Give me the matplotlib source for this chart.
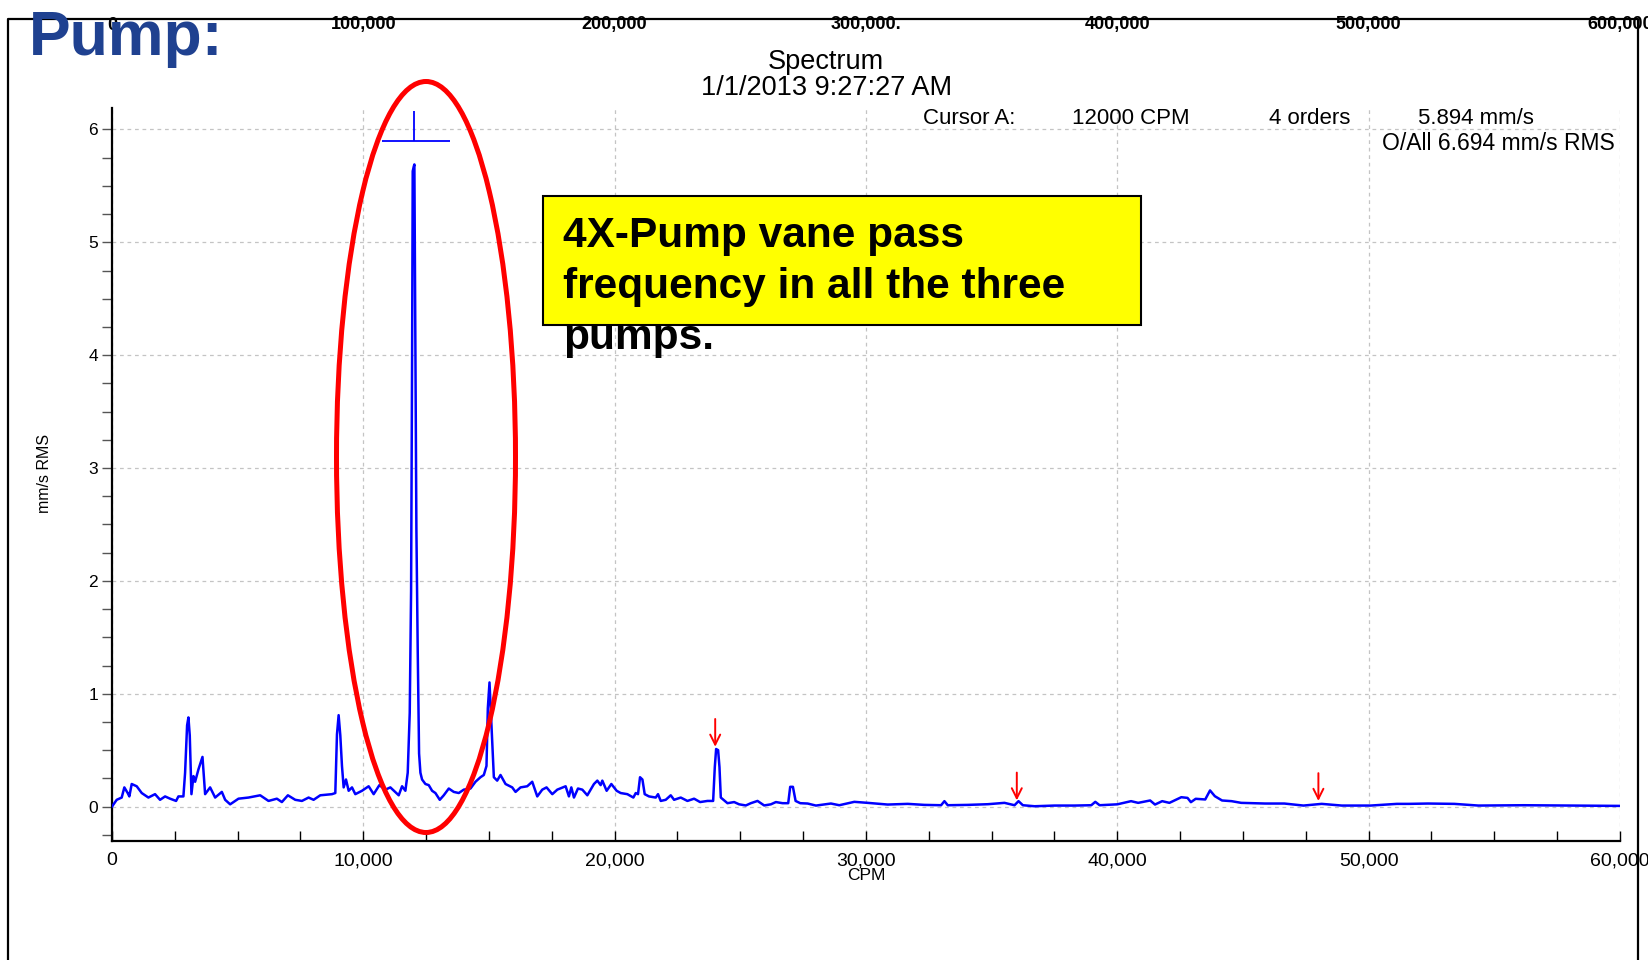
import matplotlib
matplotlib.use('Agg')
import matplotlib.pyplot as plt
import matplotlib.transforms as mtransforms
from matplotlib.patches import Ellipse, Rectangle
from matplotlib.lines import Line2D
from matplotlib.ticker import MultipleLocator, FuncFormatter

plt.rcParams['font.family'] = ['Liberation Sans', 'DejaVu Sans']

# Spectrum (CPM, mm/s RMS)
cpm = [0, 187, 386, 491, 624, 690, 784, 983, 1183, 1448, 1713, 1912, 2112, 2311, 2550, 2642,
       2841, 2908, 2988, 3041, 3094, 3161, 3240, 3307, 3440, 3600, 3705, 3904, 4104, 4370,
       4502, 4701, 5033, 5431, 5896, 6228, 6560, 6759, 6998, 7291, 7557, 7822, 8021, 8287,
       8752, 8885, 8951, 9017, 9084, 9150, 9217, 9310, 9416, 9549, 9681, 9947, 10212, 10411,
       10638, 10877, 11075, 11408, 11541, 11673, 11766, 11846, 11900, 11940, 11965, 12005,
       12031, 12058, 12085, 12111, 12164, 12218, 12271, 12337, 12470, 12603, 12736, 12868,
       13041, 13200, 13400, 13598, 13798, 13997, 14263, 14462, 14661, 14794, 14900, 14953,
       15020, 15087, 15140, 15193, 15326, 15458, 15658, 15924, 16056, 16255, 16521, 16720,
       16920, 17119, 17290, 17518, 17717, 18049, 18180, 18275, 18380, 18540, 18713, 18912,
       19176, 19310, 19442, 19509, 19681, 19868, 20079, 20239, 20505, 20744, 20839, 20929,
       21009, 21104, 21195, 21367, 21634, 21725, 21833, 22032, 22231, 22364, 22629, 22895,
       23160, 23399, 23693, 23918, 23984, 24037, 24116, 24170, 24223, 24329, 24488, 24754,
       24953, 25219, 25418, 25684, 25949, 26215, 26414, 26680, 26905, 26984, 27092, 27199,
       27384, 27677, 28008, 28605, 28937, 29535, 30066, 30863, 31660, 32323, 32988, 33120,
       33253, 34050, 34847, 35510, 35909, 36068, 36241, 36705, 37502, 38299, 38963, 39123,
       39295, 40000, 40546, 40829, 41306, 41498, 41785, 42072, 42545, 42792, 42927, 43118,
       43497, 43688, 43880, 44167, 44546, 44928, 45879, 46644, 47406, 48131, 48932, 50075,
       51123, 51601, 52362, 53410, 54366, 56175, 60000]
mm_s = [0.00, 0.06, 0.08, 0.17, 0.12, 0.09, 0.20, 0.18, 0.12, 0.08, 0.11, 0.06, 0.09, 0.07, 0.05, 0.09,
        0.09, 0.30, 0.72, 0.79, 0.63, 0.11, 0.27, 0.22, 0.33, 0.44, 0.11, 0.17, 0.08, 0.13,
        0.06, 0.02, 0.07, 0.08, 0.10, 0.05, 0.07, 0.04, 0.10, 0.06, 0.05, 0.08, 0.06, 0.10,
        0.11, 0.12, 0.64, 0.81, 0.63, 0.36, 0.17, 0.24, 0.14, 0.17, 0.11, 0.14, 0.18, 0.11,
        0.19, 0.15, 0.17, 0.10, 0.18, 0.14, 0.30, 0.83, 1.91, 3.98, 5.63, 5.67,
        5.69, 4.61, 3.56, 2.46, 1.38, 0.47, 0.30, 0.24, 0.20, 0.19, 0.14, 0.12,
        0.06, 0.10, 0.16, 0.13, 0.12, 0.15, 0.16, 0.22, 0.26, 0.28, 0.36, 0.87,
        1.10, 0.77, 0.52, 0.26, 0.23, 0.28, 0.20, 0.17, 0.13, 0.17, 0.18, 0.22,
        0.09, 0.15, 0.17, 0.11, 0.15, 0.18, 0.09, 0.17, 0.08, 0.16, 0.15, 0.10,
        0.20, 0.23, 0.19, 0.23, 0.14, 0.20, 0.14, 0.12, 0.11, 0.08, 0.12, 0.11,
        0.26, 0.24, 0.11, 0.09, 0.08, 0.11, 0.05, 0.06, 0.10, 0.06, 0.08, 0.05,
        0.07, 0.04, 0.05, 0.05, 0.35, 0.51, 0.50, 0.35, 0.08, 0.06, 0.03, 0.04,
        0.02, 0.01, 0.03, 0.05, 0.01, 0.02, 0.04, 0.03, 0.03, 0.175, 0.175, 0.05,
        0.03, 0.027, 0.009, 0.027, 0.012, 0.042, 0.033, 0.018, 0.024, 0.015, 0.012, 0.048,
        0.012, 0.015, 0.021, 0.033, 0.012, 0.048, 0.012, 0.003, 0.009, 0.009, 0.012, 0.042,
        0.012, 0.02, 0.048, 0.033, 0.054, 0.018, 0.048, 0.033, 0.083, 0.077, 0.039, 0.069,
        0.063, 0.143, 0.092, 0.054, 0.048, 0.033, 0.027, 0.027, 0.009, 0.024, 0.009, 0.009,
        0.024, 0.024, 0.027, 0.024, 0.009, 0.012, 0.006]

# Cursor A and its harmonics
cursor_cpm = 12000
cursor_val = 5.894
armonicos = [24000, 36000, 48000]
armonicos_val = [0.53, 0.055, 0.05]

# Garbled labels at the top border
top_pos = [0, 10000, 20000, 30000, 40000, 50000, 60000]
top_labels = ['0', '100,000', '200,000', '300,000.', '400,000', '500,000', '600,000']

W, H = 1649, 960
fig = plt.figure(figsize=(W / 100, H / 100), dpi=100)
ax = fig.add_axes([112 / W, 119 / H, 1508 / W, 733 / H])

ax.plot(cpm, mm_s, color='#0000ff', lw=1.8, zorder=3)
ax.set_xlim(0, 60000)
ax.set_ylim(-0.305, 6.19)

ax.spines['top'].set_visible(False)
ax.spines['right'].set_visible(False)
ax.spines['left'].set_linewidth(1.6)
ax.spines['bottom'].set_linewidth(1.6)

ax.xaxis.set_major_locator(MultipleLocator(10000))
ax.xaxis.set_minor_locator(MultipleLocator(2500))
ax.xaxis.set_major_formatter(FuncFormatter(lambda v, p: '{:,.0f}'.format(v)))
ax.yaxis.set_major_locator(MultipleLocator(1))
ax.yaxis.set_minor_locator(MultipleLocator(0.25))
ax.tick_params(axis='x', which='both', direction='in', length=7, width=1, labelsize=14, pad=8)
ax.tick_params(axis='y', which='both', direction='out', length=7, width=1, color='#555555',
               labelsize=12.5, pad=3)
ax.grid(True, which='major', ls=(0, (3, 3)), color='#c4c4c4', lw=0.9)

ax.set_xlabel('CPM', fontsize=12.5, va='center')
ax.xaxis.set_label_coords(0.5, -0.047)
ax.set_ylabel('mm/s RMS', fontsize=11.5, va='center')
ax.yaxis.set_label_coords(-0.045, 0.502)

# Cursor marker
ax.hlines(cursor_val, cursor_cpm - 1250, cursor_cpm + 1440, color='#0000ff', lw=1.3)
ax.vlines(cursor_cpm, cursor_val, cursor_val + 0.27, color='#0000ff', lw=1.3)

# Red arrows on the harmonics
for h, v in zip(armonicos, armonicos_val):
    ax.annotate('', xy=(h, v), xytext=(0, 20), textcoords='offset points',
                arrowprops=dict(arrowstyle='->', color='red', lw=1.4, mutation_scale=18,
                                shrinkA=0, shrinkB=0))

# Titles and cursor readout
fig.text(826 / W, 1 - 62 / H, 'Spectrum', fontsize=19.5, ha='center', va='center')
fig.text(827 / W, 1 - 88 / H, '1/1/2013 9:27:27 AM', fontsize=19.5, ha='center', va='center')
fig.text(923 / W, 1 - 119 / H, 'Cursor A:', fontsize=16, va='center')
fig.text(1072 / W, 1 - 119 / H, '12000 CPM', fontsize=16, va='center')
fig.text(1269 / W, 1 - 119 / H, '4 orders', fontsize=16, va='center')
fig.text(1418 / W, 1 - 119 / H, '5.894 mm/s', fontsize=16, va='center')
fig.text(1615 / W, 1 - 144 / H, 'O/All 6.694 mm/s RMS', fontsize=16.5, ha='right', va='center')

# Frame around the chart
fig.add_artist(Line2D([8 / W, 8 / W, 1638 / W, 1638 / W], [0, 1 - 19 / H, 1 - 19 / H, 0],
                      transform=fig.transFigure, color='black', lw=1.6))

trans_top = mtransforms.blended_transform_factory(ax.transData, fig.transFigure)
for pos, lab in zip(top_pos, top_labels):
    fig.text(pos, 1 - 25 / H, lab, transform=trans_top, fontsize=13, weight='bold',
             ha='center', va='center')

fig.text(29 / W, 1 - 55 / H, 'Pump:', fontsize=45, weight='bold', color='#1f4190',
         va='baseline', zorder=6)

# Red ellipse around the 4X peak
fig.add_artist(Ellipse((426 / W, 1 - 457 / H), 179 / W, 751 / H, transform=fig.transFigure,
                       fill=False, ec='#ff0000', lw=3.6, zorder=4))

# Yellow annotation box
fig.add_artist(Rectangle((543 / W, 635 / H), 598 / W, 129 / H, transform=fig.transFigure,
                         fc='#ffff00', ec='black', lw=1.5, zorder=4))
lineas = ['4X-Pump vane pass', 'frequency in all the three', 'pumps.']
for i, linea in enumerate(lineas):
    fig.text(563 / W, 1 - (247 + 51 * i) / H, linea, fontsize=30.5, weight='bold',
             va='baseline', zorder=5)

fig.savefig('out.png', dpi=100)
